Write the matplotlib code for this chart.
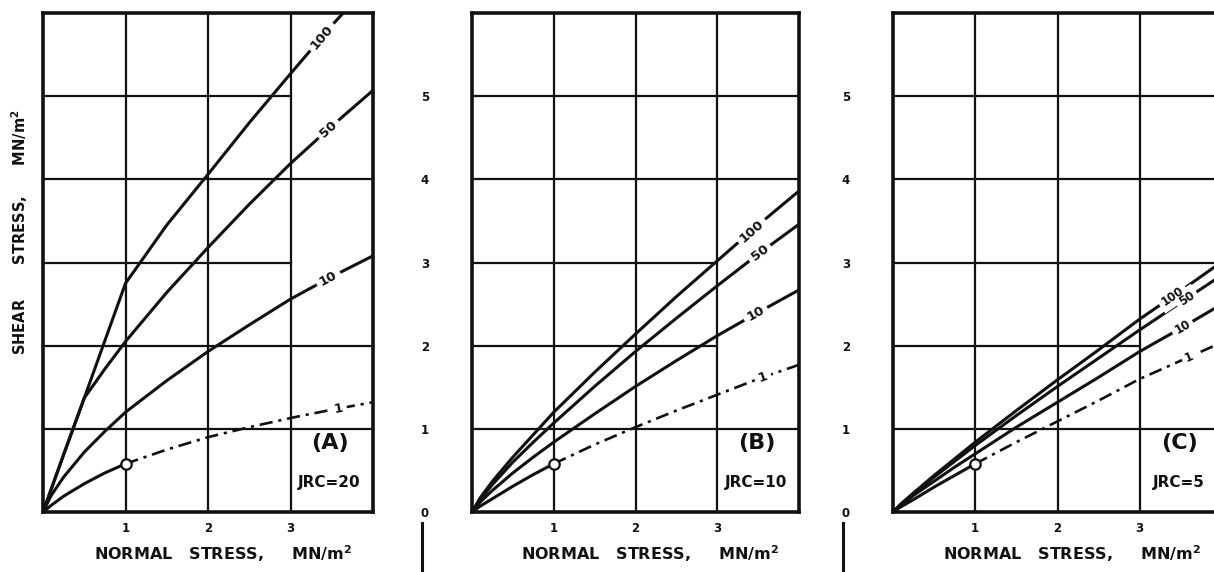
import numpy as np
import matplotlib
matplotlib.use("Agg")
import matplotlib.pyplot as plt

# Normal stress values (MN/m^2) at which the shear strength curves are read
normal_stress = [0, 0.1, 0.25, 0.5, 0.75, 1, 1.5, 2, 2.5, 3, 3.5, 4]

# Joint wall compressive strength levels labelled on the curves
jcs_labels = ["100", "50", "10", "1"]

# Shear stress (MN/m^2), panel A: JRC = 20
shear_a_100 = [0, 0.275, 0.69, 1.37, 2.06, 2.75, 3.45, 4.06, 4.68, 5.27, 5.85, 6.39]
shear_a_50 = [0, 0.275, 0.69, 1.37, 1.72, 2.05, 2.64, 3.18, 3.70, 4.19, 4.64, 5.07]
shear_a_10 = [0, 0.20, 0.42, 0.72, 0.97, 1.20, 1.58, 1.93, 2.25, 2.56, 2.83, 3.08]
shear_a_1 = [0, 0.08, 0.19, 0.34, 0.47, 0.58, 0.75, 0.90, 1.02, 1.13, 1.23, 1.32]

# Panel B: JRC = 10
shear_b_100 = [0, 0.17, 0.37, 0.66, 0.93, 1.20, 1.68, 2.14, 2.59, 3.02, 3.45, 3.86]
shear_b_50 = [0, 0.15, 0.33, 0.60, 0.84, 1.07, 1.51, 1.93, 2.33, 2.72, 3.10, 3.46]
shear_b_10 = [0, 0.12, 0.26, 0.47, 0.66, 0.84, 1.18, 1.51, 1.82, 2.12, 2.40, 2.67]
shear_b_1 = [0, 0.07, 0.16, 0.31, 0.45, 0.58, 0.81, 1.02, 1.22, 1.41, 1.60, 1.77]

# Panel C: JRC = 5
shear_c_100 = [0, 0.10, 0.23, 0.44, 0.64, 0.84, 1.22, 1.59, 1.95, 2.32, 2.66, 3.01]
shear_c_50 = [0, 0.095, 0.22, 0.42, 0.61, 0.80, 1.16, 1.51, 1.85, 2.19, 2.52, 2.85]
shear_c_10 = [0, 0.084, 0.20, 0.37, 0.54, 0.70, 1.02, 1.32, 1.62, 1.93, 2.21, 2.50]
shear_c_1 = [0, 0.065, 0.15, 0.30, 0.44, 0.58, 0.84, 1.09, 1.34, 1.60, 1.82, 2.04]

panel_letters = ["(A)", "(B)", "(C)"]
jrc_texts = ["JRC=20", "JRC=10", "JRC=5"]
x_tick_labels = ["1", "2", "3"]
y_tick_labels = ["0", "1", "2", "3", "4", "5"]

FONT = "DejaVu Sans"
BLACK = "#111111"

panels = [
    dict(curves=[shear_a_100, shear_a_50, shear_a_10, shear_a_1],
         rect=[43, 13, 330, 499], short_rows=[3, 5],
         label_x=[3.38, 3.46, 3.46, 3.58], label_size=9.5, yticks=False),
    dict(curves=[shear_b_100, shear_b_50, shear_b_10, shear_b_1],
         rect=[472, 13, 327, 499], short_rows=[2, 3],
         label_x=[3.42, 3.52, 3.47, 3.56], label_size=9.5, yticks=True),
    dict(curves=[shear_c_100, shear_c_50, shear_c_10, shear_c_1],
         rect=[893, 13, 329, 499], short_rows=[2],
         label_x=[3.40, 3.57, 3.52, 3.6], label_size=8.5, yticks=True),
]

W, H = 1214, 572
fig = plt.figure(figsize=(W / 100, H / 100), dpi=100)
fig.patch.set_facecolor("white")

xs = np.array(normal_stress)

for i, p in enumerate(panels):
    left, top, width, height = p["rect"]
    ax = fig.add_axes([left / W, (H - top - height) / H, width / W, height / H])
    ax.set_xlim(0, 4)
    ax.set_ylim(0, 6)
    for s in ax.spines.values():
        s.set_linewidth(2.6)
        s.set_color(BLACK)

    # grid: vertical lines full height, some horizontal rows end at x = 3
    for gx in (1, 2, 3):
        ax.plot([gx, gx], [0, 6], color=BLACK, lw=1.6, zorder=1)
    for gy in (1, 2, 3, 4, 5):
        xend = 3 if gy in p["short_rows"] else 4
        ax.plot([0, xend], [gy, gy], color=BLACK, lw=1.6, zorder=1)

    # strength curves
    for name, ys, lx in zip(jcs_labels, p["curves"], p["label_x"]):
        ys = np.array(ys)
        if name == "1":
            solid = xs <= 1
            ax.plot(xs[solid], ys[solid], color=BLACK, lw=2.2, zorder=3,
                    solid_capstyle="round")
            ax.plot(xs[xs >= 1], ys[xs >= 1], color=BLACK, lw=1.9, zorder=3,
                    dashes=(5, 2.2, 1.2, 2.2))
            k = int(np.where(xs == 1)[0][0])
            ax.plot([xs[k]], [ys[k]], marker="o", ms=7.5, mfc="white",
                    mec=BLACK, mew=1.6, zorder=4)
        else:
            ax.plot(xs, ys, color=BLACK, lw=2.2, zorder=3,
                    solid_capstyle="round")
        ly = np.interp(lx, xs, ys)
        p1 = ax.transData.transform((lx - 0.1, np.interp(lx - 0.1, xs, ys)))
        p2 = ax.transData.transform((lx + 0.1, np.interp(lx + 0.1, xs, ys)))
        ang = np.degrees(np.arctan2(p2[1] - p1[1], p2[0] - p1[0]))
        common = dict(rotation=ang, rotation_mode="anchor", ha="center",
                      va="center", fontsize=p["label_size"], fontweight="bold",
                      family=FONT)
        # white backing breaks the line, the black label sits above every backing
        ax.text(lx, ly, name, color="white", zorder=5,
                bbox=dict(boxstyle="square,pad=0.3", fc="white", ec="none"),
                **common)
        ax.text(lx, ly, name, color=BLACK, zorder=6, **common)

    # panel letter and JRC value
    ax.text(3.48, 0.83, panel_letters[i], ha="center", va="center",
            fontsize=16, fontweight="bold", family=FONT, color=BLACK, zorder=5)
    ax.text(3.47, 0.35, jrc_texts[i], ha="center", va="center",
            fontsize=11, fontweight="bold", family=FONT, color=BLACK, zorder=5)

    # axes ticks
    ax.set_xticks([1, 2, 3])
    ax.set_xticklabels(x_tick_labels, fontsize=8.5, fontweight="bold",
                       family=FONT, color=BLACK)
    ax.tick_params(axis="x", length=0, pad=7)
    if p["yticks"]:
        ax.set_yticks(range(6))
        ax.set_yticklabels(y_tick_labels, fontsize=8.5, fontweight="bold",
                           family=FONT, color=BLACK)
        ax.tick_params(axis="y", length=0, pad=31)
        ax.plot([-0.152, -0.152], [-0.022, -0.13], color=BLACK, lw=2.2,
                transform=ax.transAxes, clip_on=False)
    else:
        ax.set_yticks([])
        ax.text(-0.07, 0.56, "SHEAR       STRESS,      MN/m$^\\mathbf{2}$",
                transform=ax.transAxes, rotation=90, ha="center", va="center",
                fontsize=10.5, fontweight="bold", family=FONT, color=BLACK)

    ax.text(0.545, -0.083, "NORMAL   STRESS,     MN/m$^\\mathbf{2}$",
            transform=ax.transAxes, ha="center", va="center", fontsize=11.5,
            fontweight="bold", family=FONT, color=BLACK)

fig.savefig("out.png", dpi=100, facecolor="white")
